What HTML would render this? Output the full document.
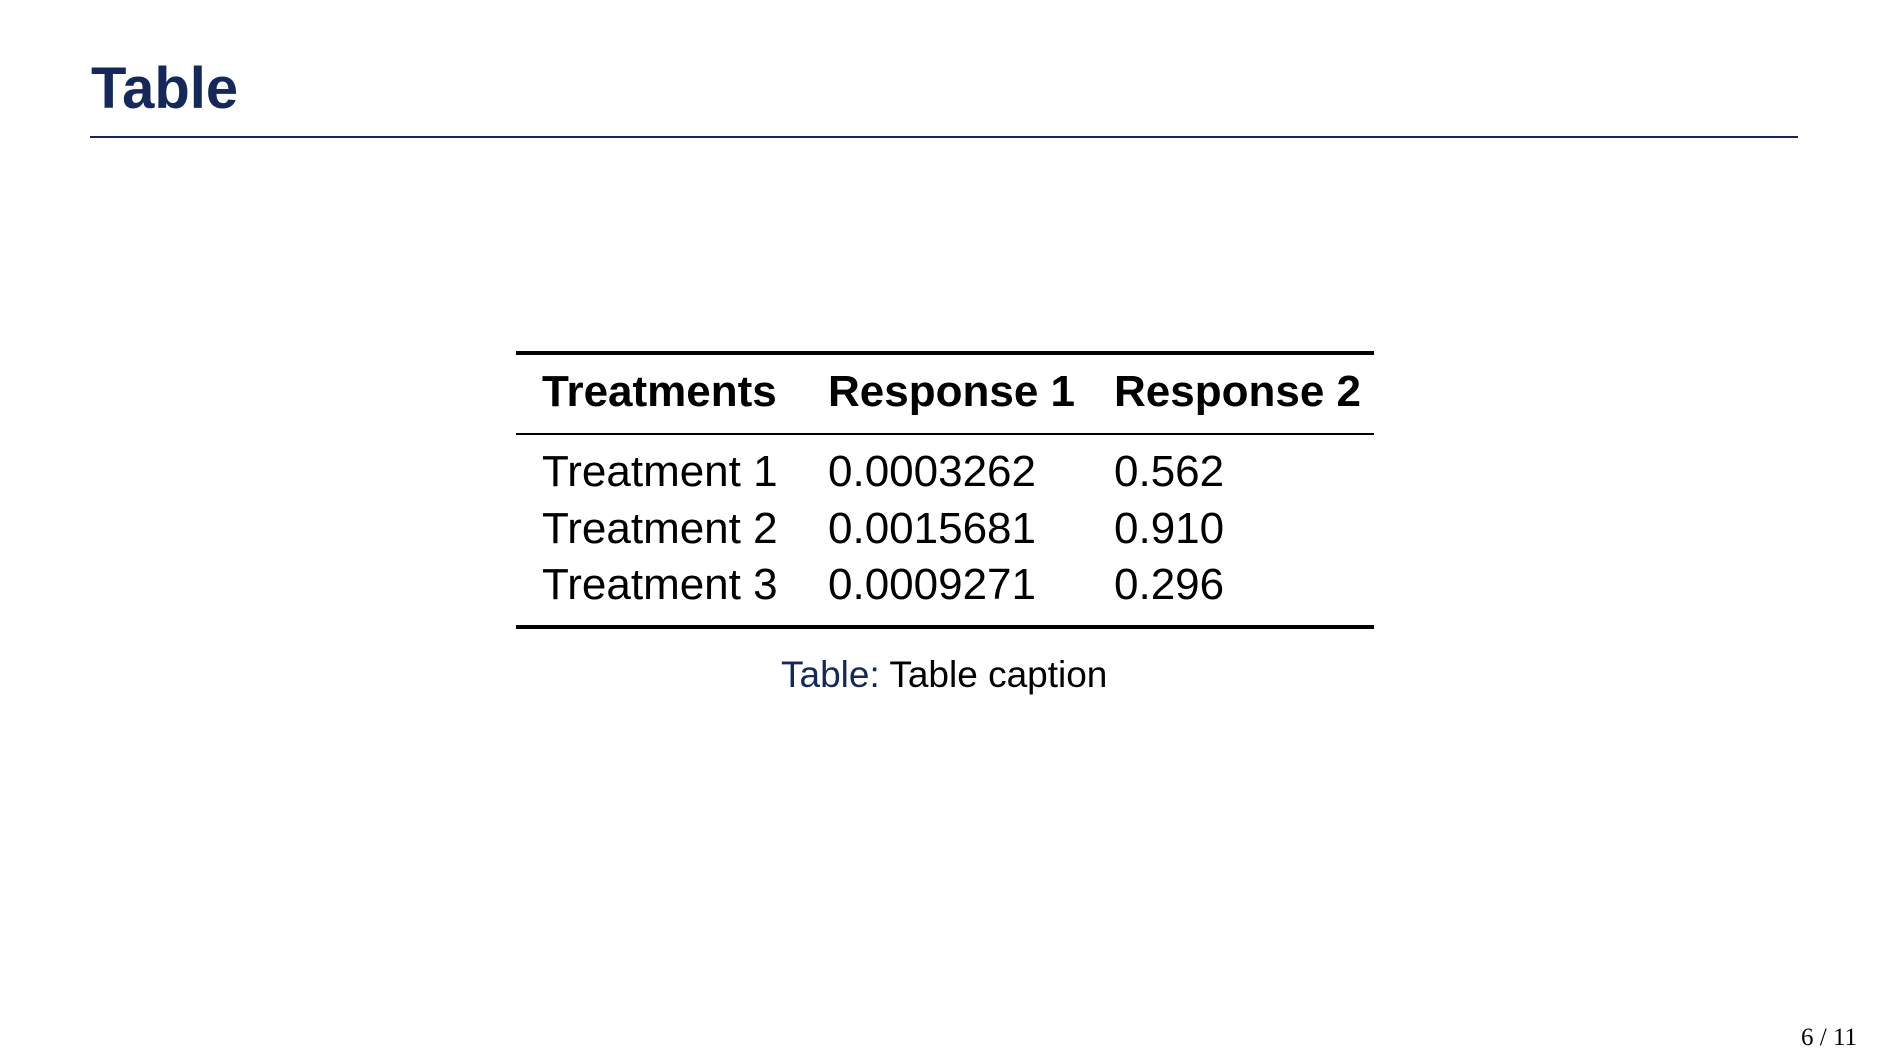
<!DOCTYPE html>
<html><head><meta charset="utf-8"><style>
body{margin:0;width:1890px;height:1063px;background:#fff;position:relative;overflow:hidden;font-family:"Liberation Sans",sans-serif;color:#000}
.a{position:absolute;white-space:nowrap}
.rule{position:absolute;background:#000}
.h{font-weight:bold;font-size:44px}
.c{font-size:44px}
</style></head><body>
<div class="a" style="left:91px;top:55px;font-size:58px;font-weight:bold;color:#14285a">Table</div>
<div class="rule" style="left:90px;top:136px;width:1708px;height:2px;background:#14285a"></div>

<div class="rule" style="left:516px;top:351px;width:858px;height:4px"></div>
<div class="a h" style="left:542px;top:367px">Treatments</div>
<div class="a h" style="left:828px;top:367px">Response 1</div>
<div class="a h" style="left:1114px;top:367px">Response 2</div>
<div class="rule" style="left:516px;top:433px;width:858px;height:2px"></div>

<div class="a c" style="left:542px;top:447px">Treatment 1</div>
<div class="a c" style="left:828px;top:447px">0.0003262</div>
<div class="a c" style="left:1114px;top:447px">0.562</div>
<div class="a c" style="left:542px;top:504px">Treatment 2</div>
<div class="a c" style="left:828px;top:504px">0.0015681</div>
<div class="a c" style="left:1114px;top:504px">0.910</div>
<div class="a c" style="left:542px;top:560px">Treatment 3</div>
<div class="a c" style="left:828px;top:560px">0.0009271</div>
<div class="a c" style="left:1114px;top:560px">0.296</div>
<div class="rule" style="left:516px;top:625px;width:858px;height:4px"></div>

<div class="a" style="left:781px;top:654px;font-size:37px"><span style="color:#14285a">Table:</span> Table caption</div>
<div class="a" style="left:1801px;top:1024px;font-size:25px;font-family:'Liberation Serif',serif">6 / 11</div>
</body></html>
